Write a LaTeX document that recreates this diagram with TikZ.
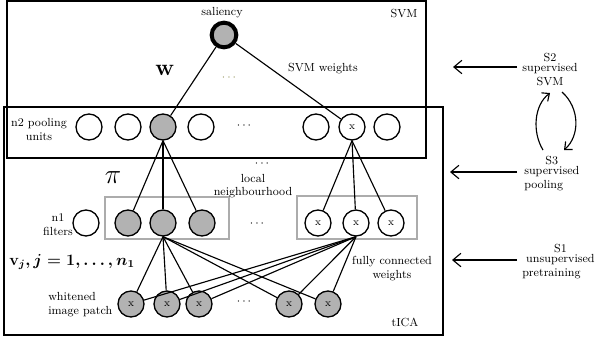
\documentclass[tikz,border=0pt]{standalone}
\usepackage{amsmath}
\usepackage{amssymb}
\usepackage{xcolor}
\usepackage{tikz}
\usetikzlibrary{arrows.meta}

\definecolor{dotolive}{RGB}{150,150,95}
\tikzset{
  unit/.style={circle,draw,line width=1pt,minimum size=19.5pt,inner sep=0pt,font=\fontsize{8}{8}\selectfont},
  hidunit/.style={unit,fill=gray!60},
  txt/.style={font=\fontsize{8.8}{10.5}\selectfont,inner sep=0pt,align=center},
  wire/.style={line width=0.85pt},
  stagearrow/.style={line width=0.85pt,-{Straight Barb[length=6pt,width=10pt]}},
  looparrow/.style={line width=0.85pt,-{Straight Barb[length=4.5pt,width=8pt]}},
}

\begin{document}
\begin{tikzpicture}[x=0.75pt,y=0.75pt,yscale=-1,xscale=1]
\useasboundingbox (0,0) rectangle (598,344);

%Boxes SVM and tICA
\draw [line width=1.1pt] (7,1) rectangle (426,158) ;
\draw [line width=1.1pt] (4,107) rectangle (443,335) ;
\draw [gray!65,line width=0.9pt] (105,197) rectangle (229,239) ;
\draw [gray!65,line width=0.9pt] (297,196) rectangle (417,239) ;

%Saliency unit
\node [circle,draw,line width=3pt,fill=gray!60,minimum size=18.5pt,inner sep=0pt] (sal) at (224,35) {};
\node [txt] (saltxt) at (222,13) {saliency};
\node [txt] (svmtxt) at (404,13) {SVM};

%Pooling units
\node [unit] (p0) at (89,127) {};
\node [unit] (p1) at (128,127) {};
\node [hidunit] (p2) at (163,127) {};
\node [unit] (p3) at (201,127) {};
\node [txt] (pdots) at (245,126) {$\cdots$};
\node [unit] (q1) at (316,127) {};
\node [unit] (q2) at (352,127) {x};
\node [unit] (q3) at (387,127) {};
\node [txt] (pooltxt) at (39,129) {n2 pooling\\units};

%Filters
\node [unit] (f0) at (86,223) {};
\node [hidunit] (f1) at (128,223) {};
\node [hidunit] (f2) at (163,223) {};
\node [hidunit] (f3) at (202,223) {};
\node [txt] (fdots) at (258,224) {$\cdots$};
\node [unit] (g1) at (318,223) {x};
\node [unit] (g2) at (356,223) {x};
\node [unit] (g3) at (391,223) {x};
\node [txt] (filttxt) at (58,225) {n1\\filters};

%Image patch
\node [hidunit] (x1) at (131,304) {x};
\node [hidunit] (x2) at (167,304) {x};
\node [hidunit] (x3) at (199,304) {x};
\node [txt] (xdots) at (245,302) {$\cdots$};
\node [hidunit] (x4) at (289,304) {x};
\node [hidunit] (x5) at (328,304) {x};
\node [txt,align=left,anchor=west] (patchtxt) at (48,305) {whitened\\image patch};

%Labels
\node [inner sep=0pt,font=\fontsize{18}{18}\selectfont] (wlbl) at (165,70) {$\mathbf{w}$};
\node [txt,text=dotolive] (wdots) at (230,78) {$\cdots$};
\node [txt] (svmw) at (323,69) {SVM weights};
\node [inner sep=0pt,font=\fontsize{21}{21}\selectfont] (pilbl) at (113,178) {$\pi$};
\node [txt] (ldots) at (263,164) {$\cdots$};
\node [txt] (loctxt) at (253,186) {local\\[-1pt]neighbourhood};
\node [inner sep=0pt,font=\large] (vlbl) at (72,262) {$\boldsymbol{\mathbf{v}_j, j=1,\ldots,n_1}$};
\node [txt] (fulltxt) at (392,269) {fully connected\\weights};
\node [txt] (ticatxt) at (405,322) {tICA};

%SVM weights
\draw [wire] (sal) -- (p2) ;
\draw [wire] (sal) -- (q2) ;

%Pooling
\foreach \f in {f1,f2,f3} \draw [wire] (p2.south) -- (\f) ;
\foreach \g in {g1,g2,g3} \draw [wire] (q2.south) -- (\g) ;

%Fully connected weights
\foreach \p in {x1,x2,x3,x4,x5} {
  \draw [wire] (f2.south) -- (\p) ;
  \draw [wire] (g2.south) -- (\p) ;
}

%Training stages
\node [txt] (s2) at (550,69) {S2\\[-3pt]supervised\\SVM};
\node [txt,anchor=west] (s3) at (524,174) {\begin{tabular}{@{}l@{}}\multicolumn{1}{@{}c@{}}{S3}\\[-3pt]supervised\\pooling\end{tabular}};
\node [txt,anchor=west] (s1) at (522,262) {\begin{tabular}{@{}l@{}}\multicolumn{1}{@{}c@{}}{\,\,S1}\\[-3pt]\,\,unsupervised\\pretraining\end{tabular}};
\coordinate (a2) at (453,67) ;
\coordinate (a3) at (450,172) ;
\coordinate (a1) at (452,260) ;
\draw [stagearrow] (517,67) -- (a2) ;
\draw [stagearrow] (517,172) -- (a3) ;
\draw [stagearrow] (517,260) -- (a1) ;

%S2 <-> S3 loop
\coordinate (l1) at (543,150) ;
\coordinate (l2) at (550,93) ;
\coordinate (r1) at (562,92) ;
\coordinate (r2) at (564,150) ;
\draw [looparrow] (l1) .. controls (532,132) and (534,105) .. (l2) ;
\draw [looparrow] (r1) .. controls (580,108) and (580,136) .. (r2) ;
\end{tikzpicture}
\end{document}
